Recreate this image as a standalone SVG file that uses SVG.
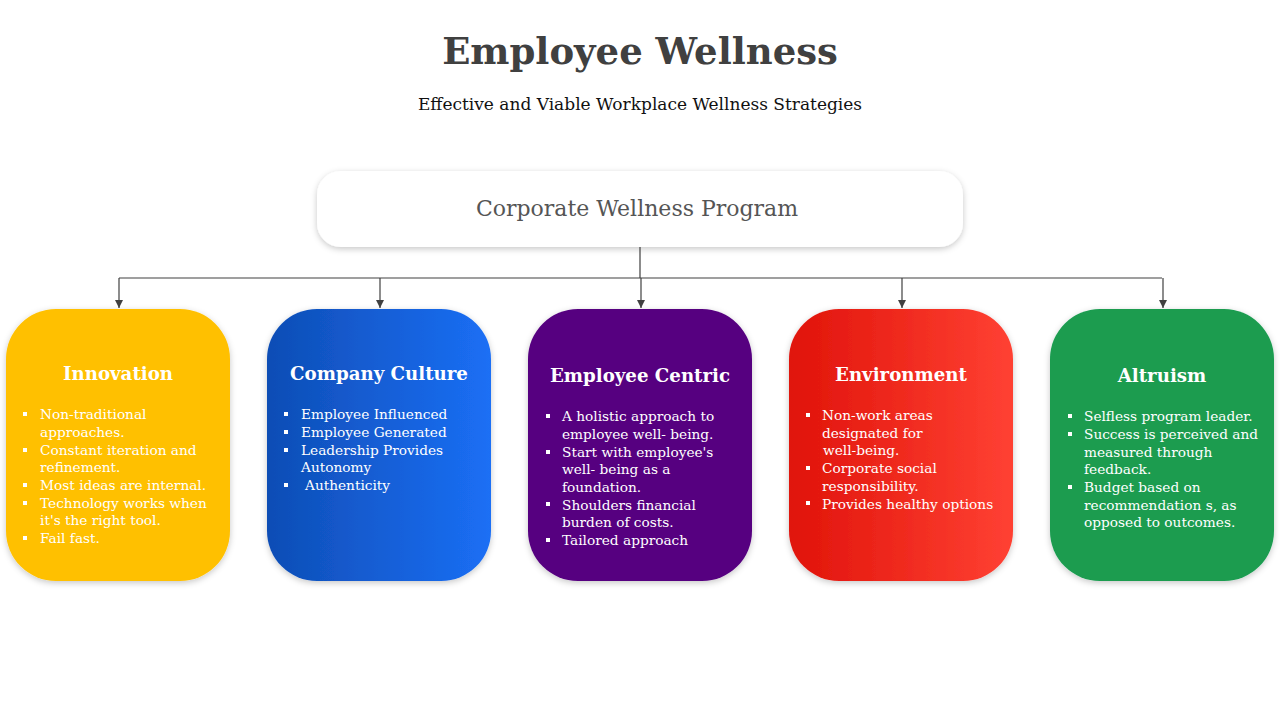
<svg xmlns="http://www.w3.org/2000/svg" width="1280" height="720" viewBox="0 0 1280 720">
<defs>
<style>
.title{font-family:"DejaVu Serif","Liberation Serif",serif;font-weight:bold;font-size:37px;fill:#404040}
.sub{font-family:"DejaVu Serif","Liberation Serif",serif;font-size:17px;fill:#111}
.root{font-family:"DejaVu Serif","Liberation Serif",serif;font-size:22px;fill:#555}
.h{font-family:"DejaVu Serif","Liberation Serif",serif;font-weight:bold;font-size:18.2px;fill:#fff}
.b{font-family:"DejaVu Serif","Liberation Serif",serif;font-size:13.7px;fill:#fff}
.bul{fill:#fff}
.conn{stroke:#404040;stroke-width:1.2;fill:none}
</style>
<filter id="sh" x="-10%" y="-10%" width="120%" height="125%">
<feDropShadow dx="0" dy="2" stdDeviation="3" flood-color="#000" flood-opacity="0.22"/>
</filter>
<marker id="ar" viewBox="0 0 10 10" refX="10" refY="5" markerWidth="8" markerHeight="8" markerUnits="userSpaceOnUse" orient="auto">
<path d="M0,0 L10,5 L0,10 z" fill="#404040"/>
</marker>
<linearGradient id="gBlue" x1="0" y1="0" x2="1" y2="0">
<stop offset="0" stop-color="#0E4DB5"/><stop offset="1" stop-color="#1B6FF5"/>
</linearGradient>
<linearGradient id="gRed" x1="0" y1="0" x2="1" y2="0">
<stop offset="0" stop-color="#E0130A"/><stop offset="1" stop-color="#FF4133"/>
</linearGradient>
</defs>
<rect width="1280" height="720" fill="#fff"/>
<text class="title" x="640" y="64" text-anchor="middle">Employee Wellness</text>
<text class="sub" x="640" y="110" text-anchor="middle">Effective and Viable Workplace Wellness Strategies</text>

<g id="root">
<rect x="317" y="171" width="646" height="76" rx="24" fill="#fff" filter="url(#sh)"/>
<text class="root" x="637" y="216" text-anchor="middle">Corporate Wellness Program</text>
</g>

<g id="connectors">
<path class="conn" d="M640,247 V278 M119,278 H1162"/>
<path class="conn" d="M119,278 V308" marker-end="url(#ar)"/>
<path class="conn" d="M380,278 V308" marker-end="url(#ar)"/>
<path class="conn" d="M641,278 V308" marker-end="url(#ar)"/>
<path class="conn" d="M902,278 V308" marker-end="url(#ar)"/>
<path class="conn" d="M1163,278 V308" marker-end="url(#ar)"/>
</g>

<g id="innovation">
<rect x="6" y="309" width="224" height="272" rx="50" fill="#FFC000" filter="url(#sh)"/>
<text class="h" x="118" y="380" text-anchor="middle">Innovation</text>
<g class="bul"><rect x="23" y="412" width="4" height="4"/><rect x="23" y="448" width="4" height="4"/><rect x="23" y="483" width="4" height="4"/><rect x="23" y="501" width="4" height="4"/><rect x="23" y="536" width="4" height="4"/></g>
<text class="b"><tspan x="40" y="419">Non-traditional</tspan><tspan x="40" y="437">approaches.</tspan><tspan x="40" y="455">Constant iteration and</tspan><tspan x="40" y="472">refinement.</tspan><tspan x="40" y="490">Most ideas are internal.</tspan><tspan x="40" y="508">Technology works when</tspan><tspan x="40" y="525">it's the right tool.</tspan><tspan x="40" y="543">Fail fast.</tspan></text>
</g>

<g id="culture">
<rect x="267" y="309" width="224" height="272" rx="50" fill="url(#gBlue)" filter="url(#sh)"/>
<text class="h" x="379" y="380" text-anchor="middle">Company Culture</text>
<g class="bul"><rect x="284" y="412" width="4" height="4"/><rect x="284" y="430" width="4" height="4"/><rect x="284" y="448" width="4" height="4"/><rect x="284" y="483" width="4" height="4"/></g>
<text class="b"><tspan x="301" y="419">Employee Influenced</tspan><tspan x="301" y="437">Employee Generated</tspan><tspan x="301" y="455">Leadership Provides</tspan><tspan x="301" y="472">Autonomy</tspan><tspan x="305" y="490">Authenticity</tspan></text>
</g>

<g id="centric">
<rect x="528" y="309" width="224" height="272" rx="50" fill="#560080" filter="url(#sh)"/>
<text class="h" x="640" y="382" text-anchor="middle">Employee Centric</text>
<g class="bul"><rect x="546" y="414" width="4" height="4"/><rect x="546" y="450" width="4" height="4"/><rect x="546" y="502" width="4" height="4"/><rect x="546" y="538" width="4" height="4"/></g>
<text class="b"><tspan x="562" y="421">A holistic approach to</tspan><tspan x="562" y="439">employee well- being.</tspan><tspan x="562" y="457">Start with employee's</tspan><tspan x="562" y="474">well- being as a</tspan><tspan x="562" y="492">foundation.</tspan><tspan x="562" y="510">Shoulders financial</tspan><tspan x="562" y="527">burden of costs.</tspan><tspan x="562" y="545">Tailored approach</tspan></text>
</g>

<g id="environment">
<rect x="789" y="309" width="224" height="272" rx="50" fill="url(#gRed)" filter="url(#sh)"/>
<text class="h" x="901" y="381" text-anchor="middle">Environment</text>
<g class="bul"><rect x="806" y="413" width="4" height="4"/><rect x="806" y="466" width="4" height="4"/><rect x="806" y="501" width="4" height="4"/></g>
<text class="b"><tspan x="822" y="420">Non-work areas</tspan><tspan x="822" y="438">designated for</tspan><tspan x="823" y="455">well-being.</tspan><tspan x="822" y="473">Corporate social</tspan><tspan x="822" y="491">responsibility.</tspan><tspan x="822" y="509">Provides healthy options</tspan></text>
</g>

<g id="altruism">
<rect x="1050" y="309" width="224" height="272" rx="50" fill="#1A9C50" filter="url(#sh)"/>
<text class="h" x="1162" y="382" text-anchor="middle">Altruism</text>
<g class="bul"><rect x="1068" y="414" width="4" height="4"/><rect x="1068" y="432" width="4" height="4"/><rect x="1068" y="485" width="4" height="4"/></g>
<text class="b"><tspan x="1084" y="421">Selfless program leader.</tspan><tspan x="1084" y="439">Success is perceived and</tspan><tspan x="1084" y="457">measured through</tspan><tspan x="1084" y="474">feedback.</tspan><tspan x="1084" y="492">Budget based on</tspan><tspan x="1084" y="510">recommendation s, as</tspan><tspan x="1084" y="527">opposed to outcomes.</tspan></text>
</g>
</svg>
